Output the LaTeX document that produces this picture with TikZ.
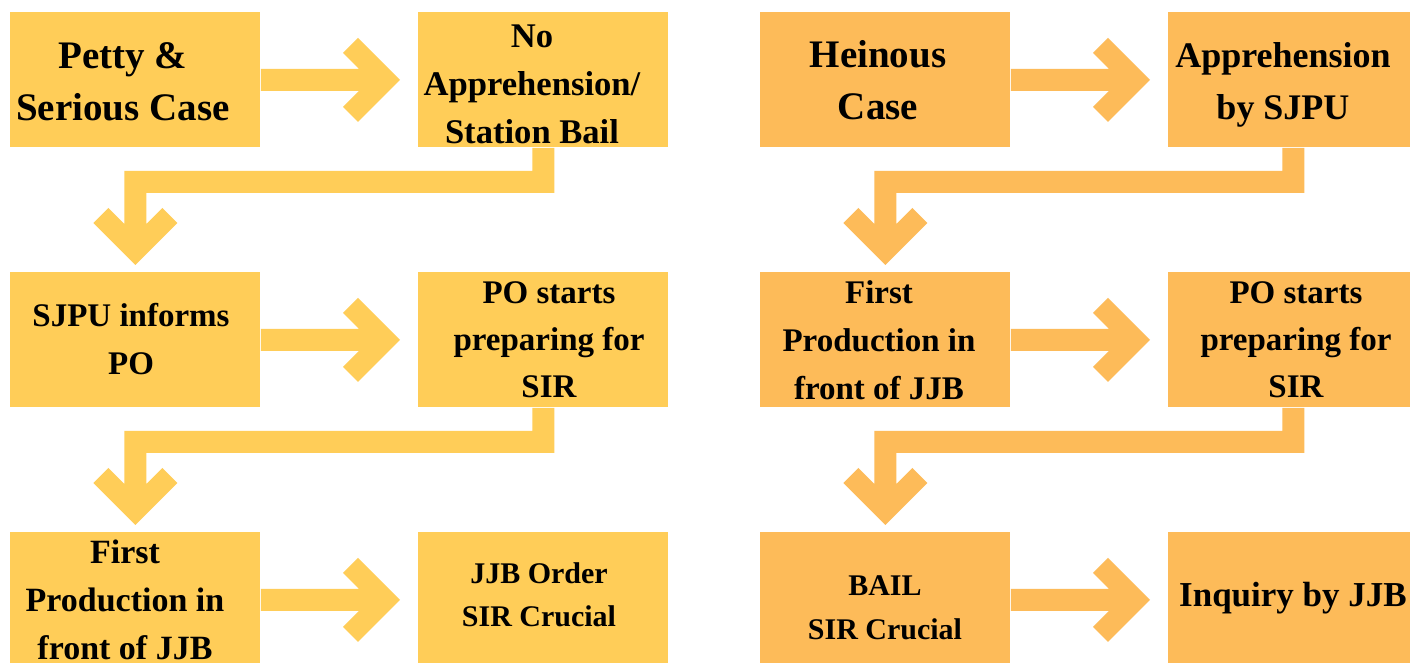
\documentclass[tikz,border=0pt]{standalone}
\usepackage{fontspec}
\setmainfont{Liberation Serif}
\usetikzlibrary{calc}
\definecolor{ylw}{RGB}{255,205,88}
\definecolor{org}{RGB}{253,187,89}
\tikzset{
  box/.style={fill=#1, draw=none, minimum width=125pt, minimum height=67.5pt, inner sep=0pt, anchor=north west},
  txt/.style={font=\bfseries, align=center, inner sep=0pt, text=black},
}
\newcommand{\hconn}[3]{%
  \fill[#3] ($(#1.east)+(0,-11)$) -- ($(#2.west)+(-59,-11)$) -- ($(#2.west)+(-75,-27)$)
    -- ($(#2.west)+(-60,-42)$) -- ($(#2.west)+(-18,0)$) -- ($(#2.west)+(-60,42)$)
    -- ($(#2.west)+(-75,27)$) -- ($(#2.west)+(-59,11)$) -- ($(#1.east)+(0,11)$) -- cycle;}
\newcommand{\vconn}[3]{%
  \fill[#3] ($(#1.south)+(11,0)$) -- ($(#1.south)+(11,45)$) -- ($(#2.north |- #1.south)+(11,45)$)
    -- ($(#2.north)+(11,-48)$) -- ($(#2.north)+(27,-64)$) -- ($(#2.north)+(42,-49)$)
    -- ($(#2.north)+(0,-7)$) -- ($(#2.north)+(-42,-49)$) -- ($(#2.north)+(-27,-64)$)
    -- ($(#2.north)+(-11,-48)$) -- ($(#2.north |- #1.south)+(-11,23)$)
    -- ($(#1.south)+(-11,23)$) -- ($(#1.south)+(-11,0)$) -- cycle;}
\begin{document}
\begin{tikzpicture}[x=0.5pt, y=-0.5pt]
\useasboundingbox (0,0) rectangle (1410,663);
\clip (0,0) rectangle (1410,663);
\fill[white] (0,0) rectangle (1410,663);
% boxes
\node[box=ylw] (L1) at (10,12) {};
\node[box=ylw] (L2) at (418,12) {};
\node[box=ylw] (L3) at (10,272) {};
\node[box=ylw] (L4) at (418,272) {};
\node[box=ylw] (L5) at (10,532) {};
\node[box=ylw] (L6) at (418,532) {};
\node[box=org] (R1) at (760,12) {};
\node[box=org] (R2) at (1168,12) {};
\node[box=org] (R3) at (760,272) {};
\node[box=org] (R4) at (1168,272) {};
\node[box=org] (R5) at (760,532) {};
\node[box=org] (R6) at (1168,532) {};
% connectors
\hconn{L1}{L2}{ylw}
\hconn{L3}{L4}{ylw}
\hconn{L5}{L6}{ylw}
\vconn{L2}{L3}{ylw}
\vconn{L4}{L5}{ylw}
\hconn{R1}{R2}{org}
\hconn{R3}{R4}{org}
\hconn{R5}{R6}{org}
\vconn{R2}{R3}{org}
\vconn{R4}{R5}{org}
% texts
\node[txt, font=\bfseries\fontsize{19.5}{26}\selectfont] (t1) at (123,82) {Petty \&\\Serious Case};
\node[txt, font=\bfseries\fontsize{17.3}{24}\selectfont] (t2) at (532,84) {No\\Apprehension/\\Station Bail};
\node[txt, font=\bfseries\fontsize{16.5}{24}\selectfont] (t3) at (131,339.5) {SJPU informs\\PO};
\node[txt, font=\bfseries\fontsize{16.5}{23.5}\selectfont] (t4) at (549,340) {PO starts\\preparing for\\SIR};
\node[txt, font=\bfseries\fontsize{17}{24}\selectfont] (t5) at (125,599.5) {First\\Production in\\front of JJB};
\node[txt, font=\bfseries\fontsize{15}{21.5}\selectfont] (t6) at (539,595) {JJB Order\\SIR Crucial};
\node[txt, font=\bfseries\fontsize{19.5}{26}\selectfont] (t7) at (878,80.5) {Heinous\\Case};
\node[txt, font=\bfseries\fontsize{18}{26}\selectfont] (t8) at (1283,84.5) {Apprehension\\by SJPU};
\node[txt, font=\bfseries\fontsize{16.5}{24}\selectfont] (t9) at (879,340) {First\\Production in\\front of JJB};
\node[txt, font=\bfseries\fontsize{16.5}{23.5}\selectfont] (t10) at (1296,340) {PO starts\\preparing for\\SIR};
\node[txt, font=\bfseries\fontsize{15}{22}\selectfont] (t11) at (885,608) {BAIL\\SIR Crucial};
\node[txt, font=\bfseries\fontsize{17.5}{24}\selectfont] (t12) at (1293,598.5) {Inquiry by JJB};
\end{tikzpicture}
\end{document}
